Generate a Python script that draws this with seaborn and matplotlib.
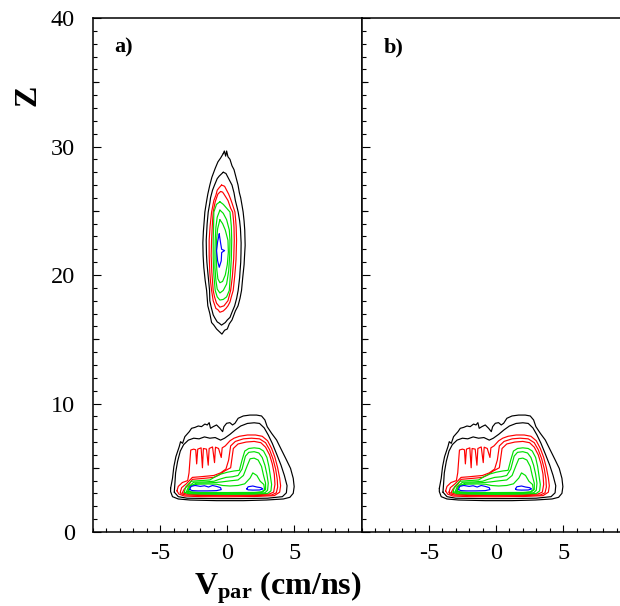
import matplotlib
matplotlib.use("Agg")
import matplotlib.pyplot as plt
import seaborn as sns
import pandas as pd
from matplotlib.ticker import MultipleLocator, FixedLocator, NullFormatter

sns.set_theme(style="white")
plt.rcParams.update({
    "font.family": ["Liberation Serif", "DejaVu Serif"],
    "mathtext.fontset": "custom",
    "mathtext.rm": "Liberation Serif",
    "mathtext.bf": "Liberation Serif:bold",
    "axes.edgecolor": "black",
    "axes.linewidth": 1.1,
    "text.color": "black",
    "axes.labelcolor": "black",
    "xtick.color": "black",
    "ytick.color": "black",
    "axes.unicode_minus": False,
})

# ---- contour lines of the phase-space density, (V_par, Z) vertices ----
# upper bunch (panel a only)
upper_k1 = [(-0.30, 29.45), (-0.22, 29.65), (-0.12, 29.25), (-0.05, 29.65), (0.05, 29.2), (0.2, 29.0),
            (0.35, 28.5), (0.5, 28.2), (0.65, 27.6), (0.8, 27.0), (0.9, 26.4), (1.0, 26.0), (1.1, 25.4),
            (1.18, 24.9), (1.25, 24.2), (1.3, 23.5), (1.33, 22.3), (1.28, 21.4), (1.25, 20.8), (1.15, 19.8),
            (1.06, 18.8), (0.95, 18.2), (0.8, 17.6), (0.6, 17.2), (0.35, 16.5), (0.15, 16.2), (0.0, 15.8),
            (-0.2, 15.7), (-0.4, 15.4), (-0.6, 15.6), (-0.8, 15.8), (-1.0, 16.1), (-1.17, 16.3), (-1.3, 17.0),
            (-1.45, 17.6), (-1.54, 18.8), (-1.65, 19.6), (-1.75, 20.6), (-1.8, 21.5), (-1.82, 22.5),
            (-1.78, 23.4), (-1.72, 24.2), (-1.67, 24.9), (-1.55, 25.7), (-1.45, 26.3), (-1.3, 27.0),
            (-1.15, 27.6), (-0.9, 28.3), (-0.7, 28.8), (-0.5, 29.1)]
upper_k2 = [(-0.3, 28.0), (-0.1, 27.9), (0.1, 27.5), (0.35, 27.0), (0.5, 26.4), (0.6, 25.8), (0.72, 25.3),
            (0.81, 24.9), (0.92, 24.2), (0.98, 23.6), (1.03, 22.5), (1.02, 21.7), (1.0, 21.0), (0.95, 20.3),
            (0.92, 19.8), (0.81, 18.8), (0.7, 18.2), (0.55, 17.6), (0.35, 17.1), (0.2, 16.7), (0.0, 16.5),
            (-0.15, 16.3), (-0.43, 16.1), (-0.6, 16.25), (-0.75, 16.35), (-0.95, 16.7), (-1.05, 16.9),
            (-1.2, 17.5), (-1.3, 18.0), (-1.32, 18.8), (-1.45, 20.2), (-1.52, 21.0), (-1.55, 21.6),
            (-1.57, 22.7), (-1.5, 24.0), (-1.42, 24.9), (-1.3, 25.6), (-1.25, 26.0), (-1.1, 26.6),
            (-0.95, 27.0), (-0.75, 27.5), (-0.6, 27.7)]
upper_r1 = [(-0.43, 27.0), (-0.3, 26.95), (-0.2, 26.9), (0.0, 26.5), (0.1, 26.3), (0.25, 25.9), (0.35, 25.6),
            (0.57, 24.9), (0.62, 24.3), (0.66, 23.8), (0.69, 22.7), (0.67, 21.9), (0.65, 21.2), (0.6, 20.5),
            (0.55, 19.9), (0.44, 18.8), (0.3, 18.3), (0.2, 17.9), (0.05, 17.6), (-0.1, 17.4), (-0.3, 17.2),
            (-0.55, 17.1), (-0.7, 17.3), (-0.85, 17.4), (-1.05, 18.0), (-1.17, 18.8), (-1.25, 19.5),
            (-1.3, 20.2), (-1.35, 21.5), (-1.35, 22.7), (-1.28, 23.8), (-1.17, 24.9), (-1.0, 25.8),
            (-0.85, 26.2), (-0.75, 26.6), (-0.6, 26.8)]
upper_r2 = [(-0.5, 26.5), (-0.35, 26.45), (-0.25, 26.3), (0.05, 25.8), (0.25, 25.2), (0.4, 24.9), (0.47, 24.2),
            (0.5, 23.7), (0.52, 22.7), (0.48, 21.3), (0.43, 20.6), (0.38, 19.9), (0.25, 18.8), (0.15, 18.4),
            (0.05, 18.0), (-0.1, 17.8), (-0.25, 17.6), (-0.55, 17.5), (-0.8, 17.8), (-0.95, 18.3),
            (-1.05, 18.8), (-1.15, 20.2), (-1.2, 21.5), (-1.17, 22.7), (-1.12, 23.8), (-1.05, 24.9),
            (-0.9, 25.7), (-0.8, 26.0), (-0.7, 26.3)]
upper_g1 = [(-0.55, 25.7), (-0.3, 25.5), (-0.05, 25.2), (0.2, 24.9), (0.3, 23.8), (0.33, 22.7), (0.3, 21.3),
            (0.22, 19.9), (0.15, 18.8), (-0.05, 18.3), (-0.3, 18.1), (-0.55, 18.05), (-0.75, 18.3),
            (-0.9, 18.8), (-1.0, 20.0), (-1.05, 21.3), (-1.05, 22.7), (-1.02, 23.8), (-1.0, 24.9), (-0.8, 25.5)]
upper_g2 = [(-0.55, 25.05), (-0.3, 24.8), (-0.05, 24.3), (0.15, 23.5), (0.2, 22.7), (0.18, 21.5), (0.1, 20.3),
            (-0.05, 19.3), (-0.3, 18.8), (-0.55, 18.6), (-0.75, 18.9), (-0.85, 19.6), (-0.92, 20.6),
            (-0.92, 21.7), (-0.9, 22.7), (-0.85, 23.7), (-0.75, 24.5)]
upper_g3 = [(-0.55, 24.3), (-0.35, 24.0), (-0.15, 23.5), (0.05, 22.7), (0.08, 21.8), (0.0, 20.8), (-0.15, 20.0),
            (-0.35, 19.5), (-0.55, 19.4), (-0.7, 19.7), (-0.78, 20.4), (-0.82, 21.3), (-0.8, 22.2),
            (-0.8, 22.7), (-0.72, 23.6)]
upper_b1 = [(-0.6, 23.2), (-0.5, 22.5), (-0.42, 22.0), (-0.2, 21.9), (-0.42, 21.75), (-0.45, 21.1),
            (-0.6, 20.6), (-0.72, 21.1), (-0.8, 21.9), (-0.72, 22.6)]

# lower bunch (both panels)
lower_k1 = [(-4.22, 3.40), (-4.08, 4.18), (-3.98, 5.08), (-3.83, 5.86), (-3.58, 6.64), (-3.48, 7.03),
            (-3.33, 6.90), (-3.16, 7.42), (-2.83, 7.81), (-2.66, 8.07), (-2.41, 8.14), (-2.16, 8.25),
            (-1.92, 8.20), (-1.67, 8.40), (-1.49, 8.33), (-1.35, 8.51), (-1.25, 8.07), (-1.05, 8.20),
            (-0.80, 8.33), (-0.55, 8.07), (-0.35, 7.81), (-0.25, 8.20), (-0.05, 8.46), (0.19, 8.51),
            (0.39, 8.33), (0.57, 8.46), (0.81, 8.85), (1.19, 9.03), (1.68, 9.10), (2.18, 9.10), (2.55, 9.03),
            (2.80, 8.72), (2.97, 8.20), (3.30, 7.68), (3.67, 7.16), (4.04, 6.38), (4.41, 5.60), (4.71, 4.95),
            (4.91, 4.18), (4.98, 3.53), (4.91, 3.01), (4.66, 2.70), (4.17, 2.57), (2.92, 2.49), (1.19, 2.44),
            (-0.80, 2.44), (-2.79, 2.49), (-3.65, 2.57), (-4.08, 2.75), (-4.22, 3.14)]
lower_k2 = [(-3.95, 3.1), (-3.9, 3.8), (-3.85, 4.6), (-3.7, 5.5), (-3.5, 6.3), (-3.25, 6.8), (-2.9, 7.15),
            (-2.5, 7.3), (-2.1, 7.25), (-1.7, 7.4), (-1.3, 7.3), (-0.9, 7.35), (-0.5, 7.15), (-0.2, 7.3),
            (0.2, 7.6), (0.6, 7.95), (1.0, 8.25), (1.5, 8.45), (2.0, 8.5), (2.4, 8.45), (2.75, 8.1),
            (3.05, 7.55), (3.35, 6.9), (3.7, 6.0), (4.0, 5.2), (4.25, 4.4), (4.45, 3.6), (4.4, 3.05),
            (4.1, 2.75), (3.0, 2.63), (1.0, 2.6), (-1.0, 2.6), (-3.0, 2.63), (-3.65, 2.75)]
lower_r1 = [(-3.75, 3.2), (-3.65, 3.55), (-3.35, 3.85), (-2.95, 4.0), (-2.85, 4.6), (-2.8, 5.3), (-2.75, 6.0),
            (-2.72, 6.38), (-2.5, 6.45), (-2.35, 6.4), (-2.28, 5.3), (-2.2, 6.45), (-1.95, 6.55), (-1.85, 5.0),
            (-1.78, 6.5), (-1.55, 6.45), (-1.42, 5.2), (-1.35, 6.5), (-1.1, 6.62), (-0.95, 5.4), (-0.88, 6.6),
            (-0.65, 6.5), (-0.45, 5.8), (-0.38, 6.55), (-0.15, 6.7), (0.2, 7.1), (0.5, 7.3), (0.9, 7.45),
            (1.5, 7.55), (2.1, 7.55), (2.6, 7.45), (3.0, 7.1), (3.3, 6.5), (3.55, 5.8), (3.75, 5.0),
            (3.9, 4.2), (3.97, 3.6), (3.9, 3.1), (3.5, 2.83), (2.0, 2.76), (0.0, 2.74), (-2.0, 2.75),
            (-3.2, 2.8), (-3.6, 2.95)]
lower_r2 = [(-3.5, 3.1), (-3.4, 3.45), (-3.05, 3.75), (-2.6, 4.25), (-2.0, 4.3), (-1.5, 4.35), (-1.0, 4.4),
            (-0.5, 4.6), (-0.1, 4.9), (0.1, 5.6), (0.25, 6.7), (0.6, 7.05), (1.2, 7.25), (1.8, 7.3),
            (2.4, 7.25), (2.85, 6.95), (3.15, 6.4), (3.4, 5.7), (3.6, 4.9), (3.72, 4.1), (3.75, 3.5),
            (3.65, 3.05), (3.3, 2.88), (2.0, 2.83), (0.0, 2.82), (-2.0, 2.84), (-3.1, 2.88), (-3.45, 2.98)]
lower_r3 = [(-3.35, 3.05), (-3.2, 3.35), (-2.85, 3.7), (-2.6, 4.1), (-2.0, 4.15), (-1.5, 4.2), (-1.0, 4.25),
            (-0.6, 4.45), (-0.2, 4.75), (0.25, 5.0), (0.45, 6.5), (0.8, 6.85), (1.4, 7.0), (2.0, 7.05),
            (2.5, 6.95), (2.85, 6.6), (3.15, 6.0), (3.35, 5.3), (3.5, 4.5), (3.55, 3.7), (3.45, 3.1),
            (3.1, 2.95), (2.0, 2.9), (0.0, 2.88), (-2.0, 2.9), (-3.0, 2.95)]
lower_g1 = [(-3.2, 3.1), (-3.1, 3.5), (-2.7, 3.95), (-2.0, 4.0), (-1.3, 4.05), (-0.9, 4.3), (-0.5, 4.5),
            (0.0, 4.65), (0.5, 4.75), (0.9, 4.8), (1.1, 5.6), (1.3, 6.3), (1.6, 6.5), (2.0, 6.55), (2.4, 6.5),
            (2.7, 6.3), (2.95, 5.8), (3.1, 5.1), (3.2, 4.4), (3.3, 3.7), (3.25, 3.2), (3.0, 3.0), (2.0, 2.95),
            (0.0, 2.93), (-2.0, 2.95), (-2.9, 2.98)]
lower_g2 = [(-3.05, 3.12), (-2.9, 3.5), (-2.5, 3.87), (-1.6, 3.9), (-1.0, 3.95), (-0.6, 4.1), (-0.1, 4.25),
            (0.4, 4.3), (0.8, 4.4), (1.1, 4.9), (1.35, 5.9), (1.6, 6.2), (2.0, 6.25), (2.35, 6.15), (2.6, 5.8),
            (2.8, 5.2), (2.95, 4.5), (3.05, 3.8), (3.0, 3.25), (2.8, 3.05), (2.0, 3.0), (0.0, 2.98),
            (-2.0, 3.0), (-2.8, 3.03)]
lower_g3 = [(-2.95, 3.15), (-2.8, 3.55), (-2.3, 3.8), (-1.5, 3.82), (-0.9, 3.85), (-0.4, 3.9), (0.2, 3.98),
            (0.8, 4.05), (1.2, 4.4), (1.5, 5.2), (1.7, 5.7), (2.0, 5.75), (2.3, 5.6), (2.55, 5.1), (2.7, 4.4),
            (2.85, 3.8), (2.85, 3.3), (2.6, 3.1), (2.0, 3.05), (0.0, 3.03), (-2.0, 3.05), (-2.7, 3.08)]
lower_g4 = [(-2.88, 3.18), (-2.78, 3.6), (-2.2, 3.72), (-1.4, 3.74), (-0.8, 3.72), (-0.35, 3.62), (0.2, 3.58),
            (0.8, 3.62), (1.3, 3.75), (1.7, 4.2), (1.9, 4.6), (2.2, 4.4), (2.45, 3.95), (2.72, 3.7),
            (2.78, 3.3), (2.55, 3.12), (2.0, 3.08), (0.0, 3.07), (-2.0, 3.08), (-2.65, 3.12)]
lower_b1 = [(-2.8, 3.3), (-2.7, 3.55), (-2.4, 3.62), (-2.0, 3.55), (-1.7, 3.6), (-1.4, 3.5), (-1.1, 3.62),
            (-0.8, 3.55), (-0.5, 3.45), (-0.45, 3.3), (-0.8, 3.22), (-1.5, 3.2), (-2.2, 3.2), (-2.6, 3.22)]
lower_b2 = [(1.45, 3.35), (1.55, 3.52), (1.9, 3.58), (2.2, 3.5), (2.5, 3.45), (2.65, 3.35), (2.4, 3.27),
            (1.9, 3.26), (1.55, 3.28)]

BLACK, RED, GREEN, BLUE = "#000000", "#ff0000", "#00e000", "#0000ff"

upper_lines = [(upper_k1, BLACK), (upper_k2, BLACK), (upper_r1, RED), (upper_r2, RED),
               (upper_g1, GREEN), (upper_g2, GREEN), (upper_g3, GREEN), (upper_b1, BLUE)]
lower_lines = [(lower_k1, BLACK), (lower_k2, BLACK), (lower_r1, RED), (lower_r2, RED), (lower_r3, RED),
               (lower_g1, GREEN), (lower_g2, GREEN), (lower_g3, GREEN), (lower_g4, GREEN),
               (lower_b1, BLUE), (lower_b2, BLUE)]

x_range = (-10, 10)
z_range = (0, 40)
x_major = [-5, 0, 5]
z_labels = [0, 10, 20, 30, 40]
z_mid = [5, 15, 25, 35]
panel_tags = ["a)", "b)"]


def draw_loop(ax, pts, color):
    ring = pts + [pts[0]]
    df = pd.DataFrame(ring, columns=["v", "z"])
    sns.lineplot(data=df, x="v", y="z", sort=False, estimator=None,
                 color=color, lw=0.85, ax=ax)


fig = plt.figure(figsize=(6.2, 6.06), dpi=100)
ax_a = fig.add_axes([0.1500, 0.1221, 0.4332, 0.8482])
ax_b = fig.add_axes([0.5834, 0.1221, 0.4332, 0.8482])

for ax, tag, loops in [(ax_a, panel_tags[0], upper_lines + lower_lines),
                       (ax_b, panel_tags[1], lower_lines)]:
    for pts, col in loops:
        draw_loop(ax, pts, col)
    ax.set_xlim(*x_range)
    ax.set_ylim(*z_range)
    ax.set_xlabel("")
    ax.set_ylabel("")
    ax.xaxis.set_major_locator(FixedLocator(x_major))
    ax.xaxis.set_minor_locator(MultipleLocator(1))
    ax.yaxis.set_major_locator(FixedLocator(z_labels))
    ax.yaxis.set_minor_locator(MultipleLocator(1))
    ax.tick_params(axis="both", which="both", direction="in", bottom=True, left=True,
                   top=False, right=False, color="black", width=0.8)
    ax.tick_params(axis="x", which="major", length=5, pad=8, labelsize=17.5)
    ax.tick_params(axis="y", which="major", length=6, pad=13, labelsize=17.5)
    ax.tick_params(axis="both", which="minor", length=2.7)
    for s in ["left", "bottom", "top", "right"]:
        ax.spines[s].set_visible(True)
        ax.spines[s].set_color("black")
        ax.spines[s].set_linewidth(1.1)
    sec = ax.secondary_yaxis("left")
    sec.yaxis.set_major_locator(FixedLocator(z_mid))
    sec.yaxis.set_major_formatter(NullFormatter())
    sec.tick_params(direction="in", length=4, width=0.8, color="black", left=True)
    sec.spines["left"].set_visible(False)
    ax.text(0.08, 0.962, tag, transform=ax.transAxes, ha="left", va="top",
            fontsize=16, fontweight="bold")

ax_b.yaxis.set_major_formatter(NullFormatter())

fig.text(28 / 620, 1 - 95 / 606, "Z", rotation=90, ha="center", va="center",
         fontsize=23, fontweight="bold")
fig.text(278 / 620, 1 - 595 / 606, r"$\mathbf{V_{par}}$ (cm/ns)", ha="center", va="baseline",
         fontsize=23, fontweight="bold")

fig.savefig("out.png", dpi=100)
